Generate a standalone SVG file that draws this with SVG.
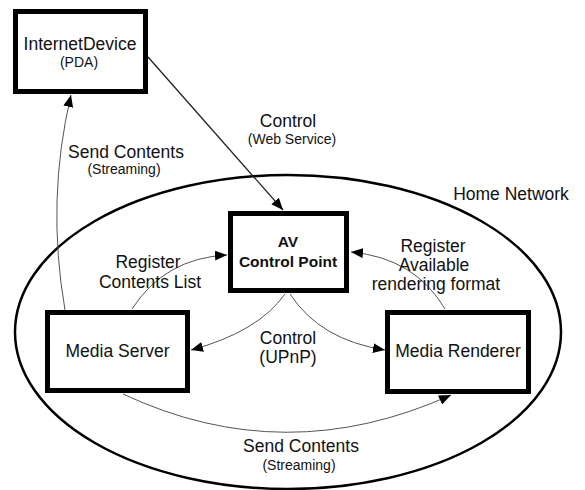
<svg xmlns="http://www.w3.org/2000/svg" width="585" height="490" viewBox="0 0 585 490">
<style>
.box{fill:#fff;stroke:#000;stroke-width:5}
.t{font-family:"Liberation Sans",Arial,sans-serif;font-size:17.5px;fill:#111;text-anchor:middle}
.s{font-family:"Liberation Sans",Arial,sans-serif;font-size:14px;fill:#111;text-anchor:middle}
.b{font-family:"Liberation Sans",Arial,sans-serif;font-size:15.5px;font-weight:bold;fill:#111;text-anchor:middle}
.c{fill:none;stroke:#555;stroke-width:1}
.cd{fill:none;stroke:#222;stroke-width:1.3}
</style>
<defs>
<marker id="ah" markerUnits="userSpaceOnUse" markerWidth="14" markerHeight="10" refX="12" refY="5" orient="auto">
<path d="M0,0 L12,5 L0,10 Z" fill="#000"/>
</marker>
</defs>
<rect width="585" height="490" fill="#fff"/>
<g id="home-network">
<ellipse cx="288" cy="332" rx="273" ry="157" fill="none" stroke="#000" stroke-width="2.5"/>
<text class="t" x="511" y="200">Home Network</text>
</g>
<g id="connectors">
<path class="cd" d="M148,57 L283,210" marker-end="url(#ah)"/>
<path class="c" d="M65,310 Q46,200 71,95" marker-end="url(#ah)"/>
<path class="c" d="M132,309 Q165,258 227,255" marker-end="url(#ah)"/>
<path class="c" d="M445,309 Q415,258 351,252" marker-end="url(#ah)"/>
<path class="c" d="M285,294 Q258,332 191,350" marker-end="url(#ah)"/>
<path class="c" d="M290,294 Q320,340 385,350" marker-end="url(#ah)"/>
<path class="c" d="M123,394 Q285,470 451,395" marker-end="url(#ah)"/>
<text class="t" x="288" y="127">Control</text>
<text class="s" x="292" y="144">(Web Service)</text>
<text class="t" x="126" y="158">Send Contents</text>
<text class="s" x="124" y="174">(Streaming)</text>
<text class="t" x="148" y="268">Register</text>
<text class="t" x="150" y="288">Contents List</text>
<text class="t" x="433" y="252">Register</text>
<text class="t" x="434" y="271">Available</text>
<text class="t" x="436" y="290">rendering format</text>
<text class="t" x="288" y="344">Control</text>
<text class="t" x="288" y="363">(UPnP)</text>
<text class="t" x="301" y="452">Send Contents</text>
<text class="s" x="299" y="470">(Streaming)</text>
</g>
<g id="internet-device">
<rect class="box" x="15.5" y="11.5" width="130" height="80"/>
<text class="t" x="80" y="50">InternetDevice</text>
<text class="s" x="79" y="67">(PDA)</text>
</g>
<g id="av-control-point">
<rect class="box" x="230.5" y="213.5" width="116" height="77"/>
<text class="b" x="288" y="247">AV</text>
<text class="b" x="288" y="267">Control Point</text>
</g>
<g id="media-server">
<rect class="box" x="47.5" y="312.5" width="140" height="78"/>
<text class="t" x="117.5" y="357">Media Server</text>
</g>
<g id="media-renderer">
<rect class="box" x="387.5" y="312.5" width="141" height="79"/>
<text class="t" x="458" y="357">Media Renderer</text>
</g>
</svg>
